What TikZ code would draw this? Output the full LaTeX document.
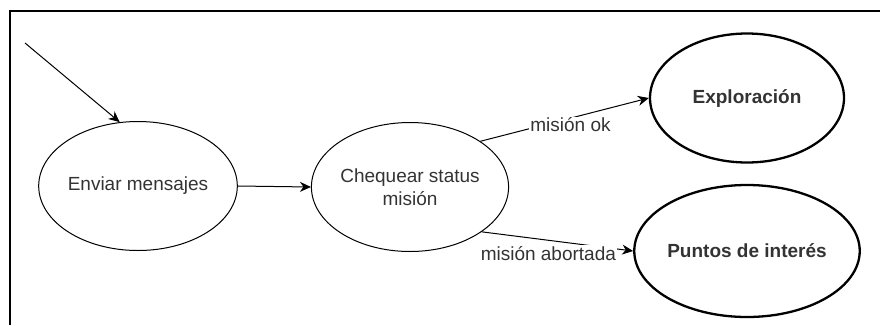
\documentclass[tikz,border=0pt]{standalone}
\usepackage{fontspec}
\setmainfont{Liberation Sans}
\usetikzlibrary{shapes.geometric,arrows.meta}
\definecolor{txt}{HTML}{333333}
\tikzset{
  state/.style={ellipse, draw=black, line width=1pt, minimum width=194pt, minimum height=129pt, inner sep=0pt, align=center, text=txt, font=\fontsize{19}{23}\selectfont},
  boldstate/.style={state, line width=2.3pt, font=\fontsize{19}{23}\selectfont\bfseries},
  conn/.style={draw=black, line width=1pt, -{Stealth[length=11pt,width=10pt]}},
  lbl/.style={fill=white, inner sep=1pt, text=txt, font=\fontsize{19}{23}\selectfont},
  frame/.style={draw=black, line width=1.5pt}
}
\begin{document}
\begin{tikzpicture}[x=1pt,y=-1pt]
\useasboundingbox (0,0) rectangle (880,325);
\draw[frame] (10,325) -- (10,11) -- (880,11);
\node[state] (enviar) at (138,186) {Enviar mensajes};
\node[state] (chequear) at (410,187) {Chequear status\\misión};
\node[boldstate] (explor) at (747,98) {Exploración};
\node[boldstate, minimum height=132pt] (puntos) at (747,251) {Puntos de interés};
\coordinate (init) at (25,43);
\draw[conn] (init) -- (enviar.106);
\draw[conn] (enviar.east) -- (chequear.west);
\draw[conn] (chequear.33) -- node[lbl, pos=0.535, yshift=-6.5pt] (lok) {misión ok} (explor.west);
\draw[conn] (chequear.-32) -- node[lbl, pos=0.44, yshift=-13pt] (lab) {misión abortada} (puntos.west);
\end{tikzpicture}
\end{document}
